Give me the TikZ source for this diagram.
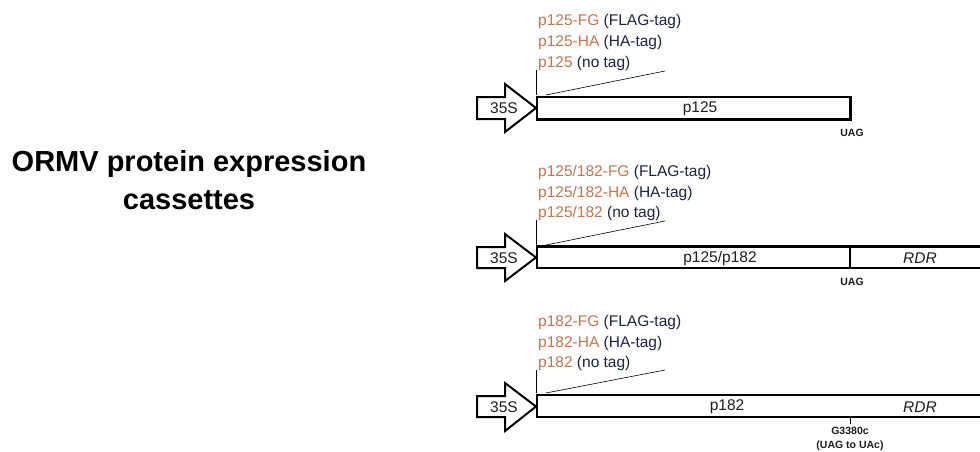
\documentclass[tikz,border=0pt]{standalone}
\usepackage{fontspec}
\setmainfont{Liberation Sans}
\definecolor{tagorange}{RGB}{196,117,80}
\definecolor{tagnavy}{RGB}{28,36,64}
\definecolor{inktext}{RGB}{30,30,30}
\tikzset{
  lab/.style={font=\fontsize{15.5}{18}\selectfont, inner sep=0pt, anchor=base west},
  boxtxt/.style={font=\fontsize{15.5}{18}\selectfont, inner sep=0pt, text=inktext},
  small/.style={font=\bfseries\fontsize{10.5}{12}\selectfont, inner sep=0pt, text=inktext},
  ttl/.style={font=\bfseries\fontsize{29}{34}\selectfont, inner sep=0pt, anchor=base},
  promoter/.style={draw=black, line width=2pt, fill=white, line join=miter},
  orf/.style={draw=black, line width=2.5pt, fill=white},
  thin/.style={draw=black, line width=0.6pt},
}
\newcommand{\tagname}[2]{{\color{tagorange}#1} {\color{tagnavy}#2}}
\begin{document}
\begin{tikzpicture}[x=1pt,y=-1pt]
\clip (0,0) rectangle (980,452);
\fill[white] (0,0) rectangle (980,452);

% Title
\node[ttl] (t1) at (189,171) {ORMV protein expression};
\node[ttl] (t2) at (189,209) {cassettes};

% ---------- cassette 1 ----------
\node[lab] (a1) at (538,26) {\tagname{p125-FG}{(FLAG-tag)}};
\node[lab] (a2) at (538,47) {\tagname{p125-HA}{(HA-tag)}};
\node[lab] (a3) at (538,67) {\tagname{p125}{(no tag)}};
\draw[orf] (537,97) rectangle (850.5,119.5);
\draw[promoter] (477,97) -- (505,97) -- (505,84) -- (536,108) -- (505,132) -- (505,119) -- (477,119) -- cycle;
\node[boxtxt] (s1) at (504,108.5) {35S};
\node[boxtxt] (g1) at (700,108.5) {p125};
\coordinate (v1t) at (536.7,70);
\coordinate (v1b) at (536.7,95);
\coordinate (d1a) at (546,95);
\coordinate (d1b) at (665,71);
\draw[thin] (v1t) -- (v1b);
\draw[thin] (d1a) -- (d1b);
\node[small] (u1) at (852,133) {UAG};

% ---------- cassette 2 ----------
\node[lab] (b1) at (538,176) {\tagname{p125/182-FG}{(FLAG-tag)}};
\node[lab] (b2) at (538,197) {\tagname{p125/182-HA}{(HA-tag)}};
\node[lab] (b3) at (538,217) {\tagname{p125/182}{(no tag)}};
\draw[orf] (537,246.5) rectangle (995,268);
\draw[orf] (850,246.5) -- (850,268);
\draw[promoter] (477,247) -- (505,247) -- (505,234) -- (536,257.5) -- (505,281) -- (505,268) -- (477,268) -- cycle;
\node[boxtxt] (s2) at (504,258) {35S};
\node[boxtxt] (g2) at (720,258) {p125/p182};
\node[boxtxt] (r2) at (920,258) {\itshape RDR};
\coordinate (v2t) at (536.7,220);
\coordinate (v2b) at (536.7,245);
\coordinate (d2a) at (546,245);
\coordinate (d2b) at (665,221);
\draw[thin] (v2t) -- (v2b);
\draw[thin] (d2a) -- (d2b);
\node[small] (u2) at (852,282) {UAG};

% ---------- cassette 3 ----------
\node[lab] (c1) at (538,326) {\tagname{p182-FG}{(FLAG-tag)}};
\node[lab] (c2) at (538,347) {\tagname{p182-HA}{(HA-tag)}};
\node[lab] (c3) at (538,367) {\tagname{p182}{(no tag)}};
\draw[orf] (537,395) rectangle (995,417);
\draw[promoter] (477,396) -- (505,396) -- (505,383) -- (536,406.5) -- (505,431) -- (505,417) -- (477,417) -- cycle;
\node[boxtxt] (s3) at (504,407) {35S};
\node[boxtxt] (g3) at (727,407) {p182};
\node[boxtxt] (r3) at (920,407) {\itshape RDR};
\coordinate (v3t) at (536.7,370);
\coordinate (v3b) at (536.7,393);
\coordinate (d3a) at (546,393);
\coordinate (d3b) at (665,370);
\draw[thin] (v3t) -- (v3b);
\draw[thin] (d3a) -- (d3b);
\coordinate (k3t) at (850,418);
\coordinate (k3b) at (850,424);
\draw[thin] (k3t) -- (k3b);
\node[small] (m1) at (850,431) {G3380c};
\node[small] (m2) at (850,446) {(UAG to UAc)};
\end{tikzpicture}
\end{document}
